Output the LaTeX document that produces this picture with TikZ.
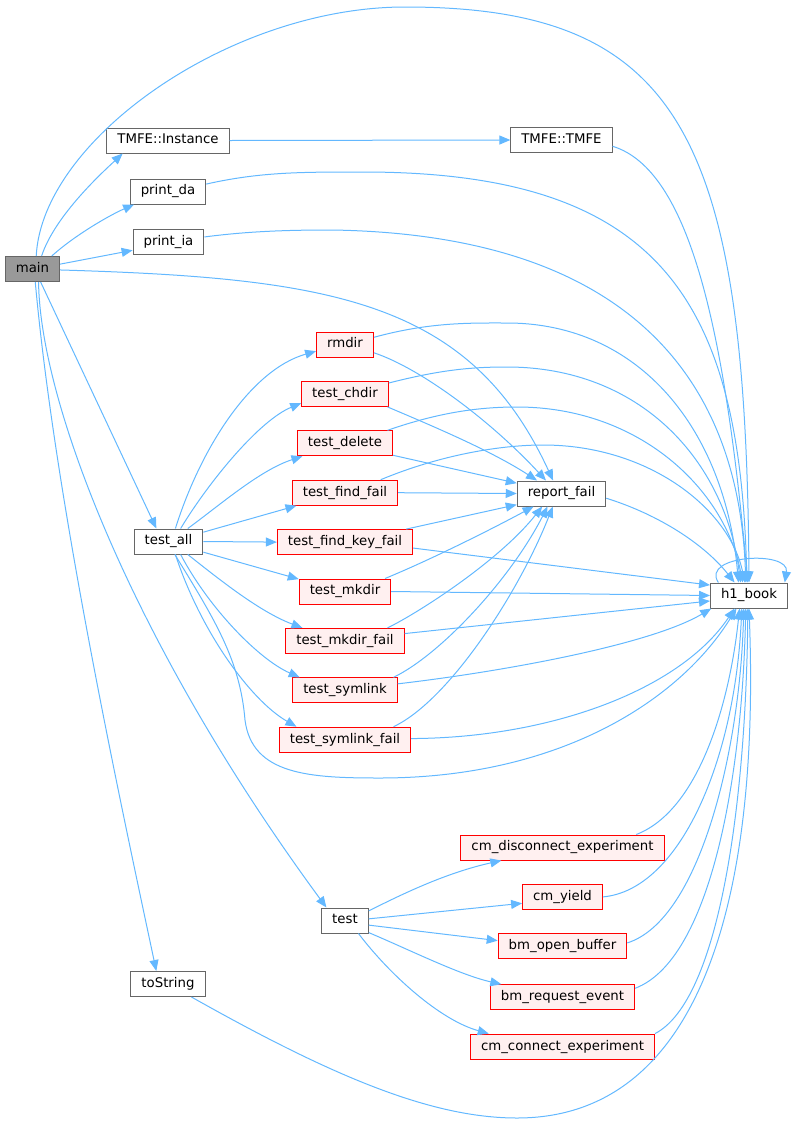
\documentclass[tikz,border=0pt]{standalone}
\usepackage{fontspec}
\setmainfont{DejaVu Sans}
\usepackage{tikz}
\usetikzlibrary{arrows.meta,shapes.geometric,positioning}
\definecolor{edgeblue}{HTML}{63B8FF}
\definecolor{boxgrey}{HTML}{666666}
\definecolor{boxred}{HTML}{FF0000}
\definecolor{fillred}{HTML}{FFF0F0}
\definecolor{fillmain}{HTML}{999999}
\tikzstyle{BOX} = [rectangle, line width=1pt, font=\fontsize{13.3}{16}\selectfont, inner xsep=10.5pt, inner ysep=0pt, minimum height=25pt, text height=9.8pt, text depth=2.9pt]
\tikzstyle{RECTANGLE_1} = [BOX, draw=boxgrey, fill=fillmain]
\tikzstyle{RECTANGLE_2} = [BOX, draw=boxgrey, fill=white]
\tikzstyle{RECTANGLE_3} = [BOX, draw=boxred, fill=fillred]
\tikzstyle{LINE} = [draw=edgeblue, line width=1pt, -{Triangle[length=11pt,width=9pt]}]

\begin{document}
\begin{tikzpicture}[x=1pt, y=-1pt, node distance=49.4pt]
\useasboundingbox (0,0) rectangle (793,1125);
% Place nodes
\node [RECTANGLE_1] (main) at (32.5,269) {main};
\node [RECTANGLE_2] (inst) at (168,140.5) {TMFE::Instance};
\node [RECTANGLE_2] (pda) at (168,191.5) {print\_da};
\node [RECTANGLE_2] (pia) at (168.5,242) {print\_ia};
\node [RECTANGLE_2] (tmfe) at (561.5,140) {TMFE::TMFE};
\node [RECTANGLE_2] (testall) at (168.5,541.5) {test\_all};
\node [RECTANGLE_2] (test) at (345,920.5) {test};
\node [RECTANGLE_2] (tostr) at (168,984) {toString};
\node [RECTANGLE_2] (report) at (561.5,493.5) {report\_fail};
\node [RECTANGLE_2] (h1) at (749,595.5) {h1\_book};
\node [RECTANGLE_3] (rmdir) at (345,344.5) {rmdir};
\node [RECTANGLE_3, below of=rmdir] (chdir) {test\_chdir};
\node [RECTANGLE_3, below of=chdir] (delete) {test\_delete};
\node [RECTANGLE_3, below of=delete] (findfail) {test\_find\_fail};
\node [RECTANGLE_3, below of=findfail] (findkey) {test\_find\_key\_fail};
\node [RECTANGLE_3, below of=findkey] (mkdir) {test\_mkdir};
\node [RECTANGLE_3, below of=mkdir] (mkdirfail) {test\_mkdir\_fail};
\node [RECTANGLE_3, below of=mkdirfail] (symlink) {test\_symlink};
\node [RECTANGLE_3, below of=symlink] (symlinkfail) {test\_symlink\_fail};
\node [RECTANGLE_3] (cmdisc) at (562.5,847.5) {cm\_disconnect\_experiment};
\node [RECTANGLE_3, below of=cmdisc] (cmyield) {cm\_yield};
\node [RECTANGLE_3, below of=cmyield] (bmopen) {bm\_open\_buffer};
\node [RECTANGLE_3, below of=bmopen, yshift=-1.5pt] (bmreq) {bm\_request\_event};
\node [RECTANGLE_3, below of=bmreq] (cmconn) {cm\_connect\_experiment};
% LINES and ARROWS
\path [LINE] (main.74) .. controls (42,140) and (230,7) .. (405,7) .. controls (680,7) and (746,135) .. (h1.90);
\path [LINE] (main.55) .. controls (55,215) and (105,170) .. (inst.-164);
\path [LINE] (main.34) .. controls (75,235) and (110,215) .. (pda.-159);
\path [LINE] (main.10) -- (pia.-167);
\path [LINE] (main.-2) .. controls (330,278) and (470,300) .. (report.123);
\path [LINE] (main.-58) -- (testall.133);
\path [LINE] (main.-65) .. controls (40,400) and (130,640) .. (test.145);
\path [LINE] (main.-78) .. controls (55,500) and (120,800) .. (tostr.132);
\path [LINE] (inst.east) -- (tmfe.west);
\path [LINE] (tmfe.-7) .. controls (690,170) and (725,330) .. (h1.95);
\path [LINE] (pda.11) .. controls (260,172) and (300,172) .. (363,172) .. controls (660,172) and (740,300) .. (h1.99);
\path [LINE] (pia.8) .. controls (250,231) and (290,230) .. (332,230) .. controls (650,235) and (740,400) .. (h1.104);
% test_all
\path [LINE] (testall.62) .. controls (200,450) and (250,370) .. (rmdir.-167);
\path [LINE] (testall.47) .. controls (210,480) and (260,420) .. (chdir.-168);
\path [LINE] (testall.34) .. controls (220,505) and (260,470) .. (delete.-163);
\path [LINE] (testall.15) -- (findfail.-165);
\path [LINE] (testall.east) -- (findkey.west);
\path [LINE] (testall.-17) -- (mkdir.165);
\path [LINE] (testall.-34) .. controls (220,580) and (260,612) .. (mkdirfail.163);
\path [LINE] (testall.-47) .. controls (210,610) and (260,660) .. (symlink.164);
\path [LINE] (testall.-62) .. controls (200,630) and (250,700) .. (symlinkfail.165);
\path [LINE] (testall.-64) .. controls (215,620) and (240,660) .. (245,720) .. controls (252,775) and (310,778) .. (380,778) .. controls (560,778) and (680,700) .. (h1.-134);
% report_fail
\path [LINE] (rmdir.-16) .. controls (420,368) and (490,420) .. (report.140);
\path [LINE] (chdir.-17) .. controls (430,425) and (490,450) .. (report.152);
\path [LINE] (delete.-14) -- (report.167);
\path [LINE] (findfail.east) -- (report.west);
\path [LINE] (findkey.12) -- (report.-166);
\path [LINE] (mkdir.18) .. controls (430,560) and (490,530) .. (report.-155);
\path [LINE] (mkdirfail.17) .. controls (420,612) and (500,560) .. (report.-146);
\path [LINE] (symlink.15) .. controls (440,655) and (510,580) .. (report.-137);
\path [LINE] (symlinkfail.15) .. controls (450,700) and (520,590) .. (report.-124);
\path [LINE] (report.-6) .. controls (660,515) and (705,545) .. (h1.138);
% h1_book
\path [LINE] (rmdir.14) .. controls (430,322) and (470,323) .. (507,323) .. controls (640,323) and (725,430) .. (h1.129);
\path [LINE] (chdir.14) .. controls (440,370) and (470,367) .. (507,367) .. controls (640,367) and (725,460) .. (h1.123);
\path [LINE] (delete.17) .. controls (440,412) and (480,407) .. (517,407) .. controls (640,407) and (725,490) .. (h1.116);
\path [LINE] (findfail.20) .. controls (440,455) and (500,445) .. (543,445) .. controls (650,445) and (730,510) .. (h1.108);
\path [LINE] (findkey.-5) -- (h1.165);
\path [LINE] (mkdir.east) -- (h1.180);
\path [LINE] (mkdirfail.7) -- (h1.-172);
\path [LINE] (symlink.7) .. controls (500,672) and (650,645) .. (h1.-161);
\path [LINE] (symlinkfail.1) .. controls (550,738) and (680,690) .. (h1.-138);
\path [LINE] (h1.157) .. controls (700,555) and (790,550) .. (h1.20);
% test
\path [LINE] (test.22) .. controls (410,890) and (450,872) .. (cmdisc.-168);
\path [LINE] (test.4) -- (cmyield.-171);
\path [LINE] (test.-11) -- (bmopen.175);
\path [LINE] (test.-27) .. controls (410,950) and (460,975) .. (bmreq.168);
\path [LINE] (test.-44) .. controls (390,975) and (440,1020) .. (cmconn.170);
\path [LINE] (cmdisc.10) .. controls (700,810) and (730,700) .. (h1.-126);
\path [LINE] (cmyield.east) .. controls (680,890) and (735,760) .. (h1.-119);
\path [LINE] (bmopen.3) .. controls (700,920) and (740,750) .. (h1.-112);
\path [LINE] (bmreq.7) .. controls (710,960) and (742,780) .. (h1.-104);
\path [LINE] (cmconn.8) .. controls (720,1000) and (746,800) .. (h1.-95);
\path [LINE] (tostr.-29) .. controls (330,1075) and (430,1118) .. (517,1118) .. controls (700,1118) and (760,900) .. (h1.-90);
\end{tikzpicture}
\end{document}
